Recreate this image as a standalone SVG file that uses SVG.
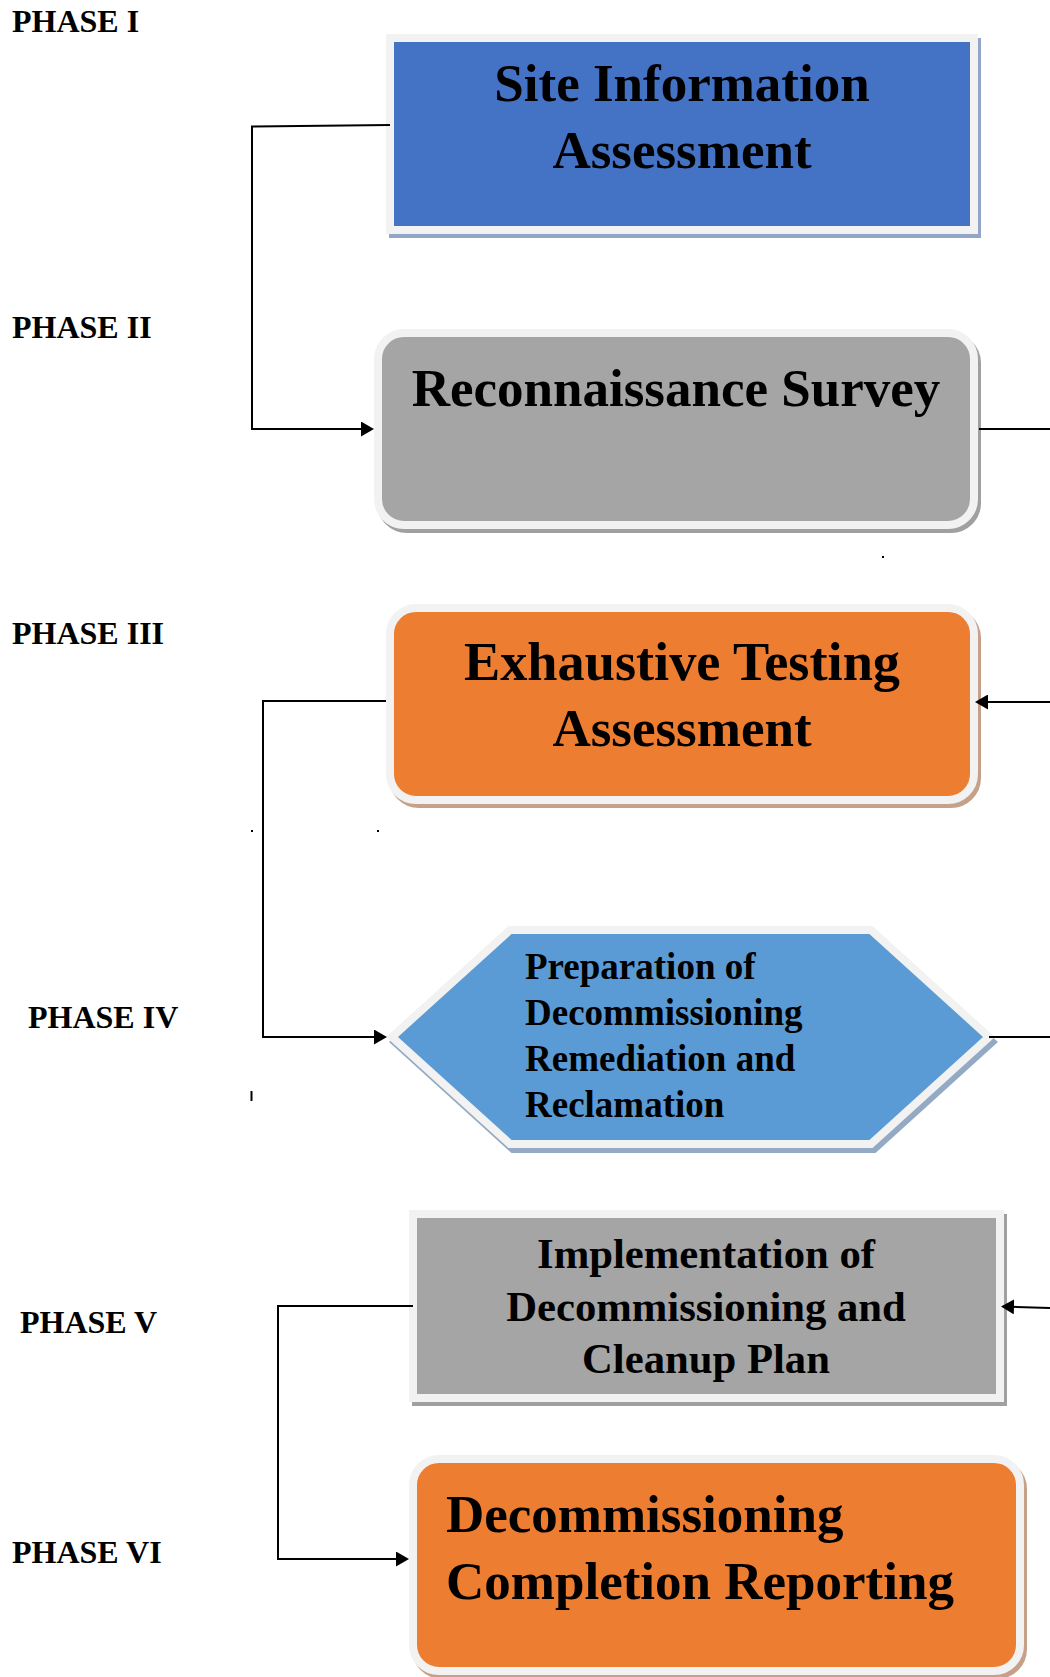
<svg xmlns="http://www.w3.org/2000/svg" width="1050" height="1677" viewBox="0 0 1050 1677">
<style>
.phase{font-family:"Liberation Serif","Times New Roman",serif;font-weight:bold;font-size:32px;fill:#000}
.big{font-family:"Liberation Serif","Times New Roman",serif;font-weight:bold;font-size:53px;fill:#000}
.mid{font-family:"Liberation Serif","Times New Roman",serif;font-weight:bold;font-size:42.7px;fill:#000}
.hex{font-family:"Liberation Serif","Times New Roman",serif;font-weight:bold;font-size:37px;fill:#000}
.c{text-anchor:middle}
.edge{stroke:#f2f2f2;stroke-width:8}
.conn{fill:none;stroke:#000;stroke-width:2}
</style>
<defs>
<marker id="arr" markerUnits="userSpaceOnUse" markerWidth="13" markerHeight="15" refX="11" refY="7.5" orient="auto">
<path d="M0,0 L13,7.5 L0,15 z" fill="#000"/>
</marker>
</defs>
<rect width="1050" height="1677" fill="#fff"/>

<g id="phase-labels">
<text class="phase" x="12" y="32">PHASE I</text>
<text class="phase" x="12" y="338">PHASE II</text>
<text class="phase" x="12" y="644">PHASE III</text>
<text class="phase" x="28" y="1028">PHASE IV</text>
<text class="phase" x="20" y="1333">PHASE V</text>
<text class="phase" x="12" y="1563">PHASE VI</text>
</g>

<g id="node-site-information">
<rect x="393" y="42" width="584" height="192" fill="#94a6c8" stroke="#94a6c8" stroke-width="8"/>
<rect class="edge" x="390" y="38" width="584" height="192" fill="#4472c4"/>
<text class="big c" x="682" y="101">Site Information</text>
<text class="big c" x="682" y="168">Assessment</text>
</g>

<g id="node-reconnaissance">
<rect x="381" y="337" width="596" height="192" rx="26" fill="#a0a0a0" stroke="#a0a0a0" stroke-width="8"/>
<rect class="edge" x="378" y="333" width="596" height="192" rx="26" fill="#a5a5a5"/>
<text class="big c" x="676" y="406">Reconnaissance Survey</text>
</g>

<g id="node-exhaustive-testing">
<rect x="393" y="612" width="584" height="192" rx="26" fill="#c6a18a" stroke="#c6a18a" stroke-width="8"/>
<rect class="edge" x="390" y="608" width="584" height="192" rx="26" fill="#ed7d31"/>
<text class="big c" x="682" y="680" style="font-size:54.3px">Exhaustive Testing</text>
<text class="big c" x="682" y="746">Assessment</text>
</g>

<g id="node-preparation">
<polygon points="395,1042 513,935 874,935 992,1042 874,1149 513,1149" fill="#94aac4" stroke="#94aac4" stroke-width="8" stroke-linejoin="miter"/>
<polygon class="edge" points="392,1037 510,930 871,930 989,1037 871,1144 510,1144" fill="#5b9bd5" stroke-linejoin="miter"/>
<text class="hex" x="525" y="979">Preparation of</text>
<text class="hex" x="525" y="1025">Decommissioning</text>
<text class="hex" x="525" y="1071">Remediation and</text>
<text class="hex" x="525" y="1117">Reclamation</text>
</g>

<g id="node-implementation">
<rect x="416" y="1218" width="587" height="184" fill="#a0a0a0" stroke="#a0a0a0" stroke-width="8"/>
<rect class="edge" x="413" y="1214" width="587" height="184" fill="#a5a5a5"/>
<text class="mid c" x="706" y="1268">Implementation of</text>
<text class="mid c" x="706" y="1321">Decommissioning and</text>
<text class="mid c" x="706" y="1373">Cleanup Plan</text>
</g>

<g id="node-completion">
<rect x="416" y="1463" width="607" height="212" rx="26" fill="#c6a18a" stroke="#c6a18a" stroke-width="8"/>
<rect class="edge" x="413" y="1459" width="607" height="212" rx="26" fill="#ed7d31"/>
<text class="big" x="446" y="1532">Decommissioning</text>
<text class="big" x="446" y="1599">Completion Reporting</text>
</g>

<g id="connectors">
<path class="conn" d="M390,125 L252,126.5 L252,429 L372,429" marker-end="url(#arr)"/>
<path class="conn" d="M979,429 L1050,429"/>
<path class="conn" d="M1050,702 L977,702" marker-end="url(#arr)"/>
<path class="conn" d="M386,701 L263,701 L263,1037 L385,1037" marker-end="url(#arr)"/>
<path class="conn" d="M989,1037 L1050,1037"/>
<path class="conn" d="M1050,1308 L1003,1306.5" marker-end="url(#arr)"/>
<path class="conn" d="M413,1306 L278,1306 L278,1559 L407,1559" marker-end="url(#arr)"/>
</g>

<g id="specks" fill="#000">
<rect x="882" y="556" width="2" height="2"/>
<rect x="251" y="830" width="2" height="2"/>
<rect x="377" y="830" width="2" height="2"/>
<rect x="250.5" y="1091" width="2" height="10"/>
</g>
</svg>
